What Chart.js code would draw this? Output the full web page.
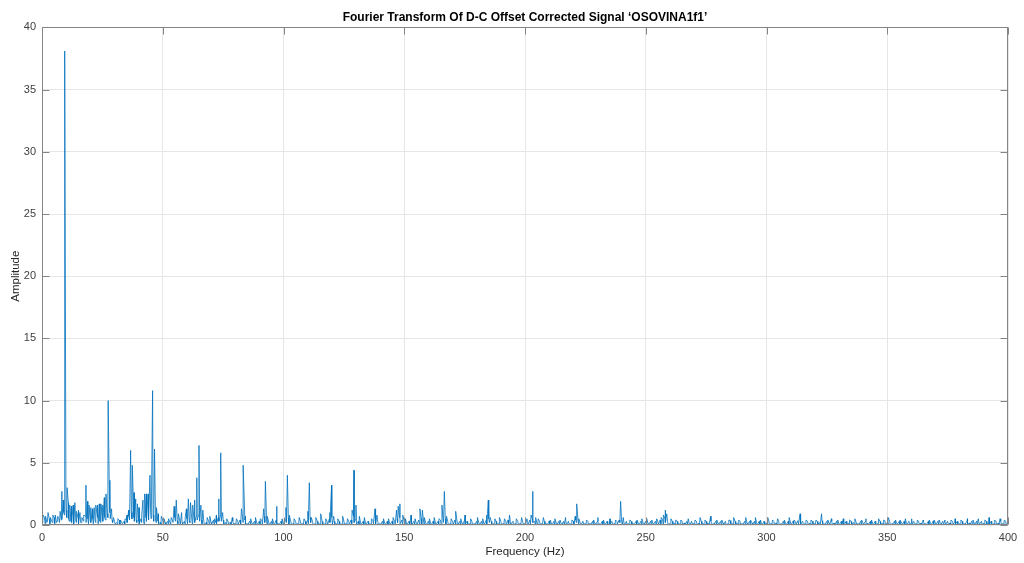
<!DOCTYPE html>
<html>
<head>
<meta charset="utf-8">
<script src="https://cdn.jsdelivr.net/npm/chart.js@4"></script>
<style>
  html, body { margin: 0; padding: 0; background: #fff; }
  canvas { display: block; }
</style>
</head>
<body>
<canvas id="fft" width="1024" height="563"></canvas>
<script>
// x axis / y axis ticks
var freqTicks = [0, 50, 100, 150, 200, 250, 300, 350, 400];
var ampTicks = [0, 5, 10, 15, 20, 25, 30, 35, 40];

// noise floor, one value per Hz (0..400)
var floorAmp = [
  0.3,0.6,0.2,0.5,0.3,0.6,0.2,0.5,0.4,1.0, 1.2,0.5,0.3,0.6,0.3,0.5,0.2,0.4,0.7,0.5,
  0.3,0.5,0.3,0.6,0.3,0.5,0.6,0.9,1.0,0.4, 0.3,0.2,0.4,0.2,0.3,0.4,0.7,1.0,0.6,0.4,
  0.3,0.5,0.4,0.6,0.7,1.0,0.8,0.4,0.3,0.2, 0.4,0.2,0.3,0.2,0.4,0.6,0.3,0.4,0.2,0.3,
  0.5,0.3,0.5,0.4,0.8,0.9,0.4,0.3,0.2,0.3, 0.2,0.4,0.2,0.6,0.8,0.4,0.2,0.3,0.2,0.3,
  0.1,0.3,0.4,0.7,0.4,0.1,0.3,0.1,0.3,0.1, 0.3,0.4,0.7,0.3,0.1,0.3,0.1,0.4,0.1,0.3,
  0.1,0.5,0.6,0.3,0.1,0.3,0.1,0.3,0.1,0.3, 0.4,0.6,0.3,0.1,0.3,0.1,0.3,0.1,0.3,0.5,
  0.6,0.3,0.1,0.3,0.1,0.3,0.1,0.3,0.4,0.7, 0.5,0.3,0.1,0.3,0.1,0.3,0.1,0.4,0.6,0.3,
  0.1,0.3,0.1,0.3,0.1,0.3,0.3,0.5,0.6,0.4, 0.3,0.1,0.3,0.1,0.3,0.1,0.4,0.5,0.3,0.1,
  0.3,0.1,0.3,0.1,0.3,0.4,0.6,0.5,0.3,0.1, 0.3,0.4,0.1,0.3,0.1,0.4,0.3,0.1,0.3,0.1,
  0.3,0.1,0.3,0.1,0.4,0.5,0.3,0.1,0.3,0.1, 0.3,0.1,0.3,0.4,0.1,0.3,0.1,0.3,0.1,0.3,
  0.1,0.3,0.4,0.5,0.3,0.1,0.3,0.1,0.3,0.1, 0.3,0.1,0.3,0.1,0.3,0.1,0.3,0.1,0.3,0.1,
  0.3,0.4,0.3,0.1,0.3,0.1,0.3,0.1,0.3,0.1, 0.3,0.1,0.3,0.1,0.3,0.1,0.3,0.1,0.3,0.4,
  0.3,0.1,0.3,0.1,0.3,0.1,0.3,0.1,0.3,0.1, 0.3,0.1,0.3,0.1,0.3,0.3,0.4,0.4,0.5,0.3,
  0.1,0.3,0.15,0.3,0.1,0.3,0.15,0.3,0.1,0.3, 0.1,0.3,0.15,0.3,0.1,0.3,0.15,0.3,0.1,0.3,
  0.1,0.3,0.15,0.3,0.1,0.35,0.1,0.3,0.15,0.3, 0.1,0.3,0.1,0.3,0.15,0.3,0.1,0.3,0.1,0.3,
  0.15,0.3,0.1,0.3,0.15,0.35,0.1,0.3,0.1,0.3, 0.15,0.3,0.25,0.35,0.1,0.3,0.1,0.3,0.15,0.3,
  0.1,0.3,0.2,0.35,0.1,0.3,0.1,0.3,0.15,0.3, 0.1,0.3,0.1,0.3,0.15,0.3,0.2,0.3,0.1,0.3,
  0.1,0.3,0.15,0.3,0.1,0.3,0.1,0.3,0.15,0.35, 0.2,0.3,0.1,0.3,0.1,0.3,0.15,0.3,0.1,0.3,
  0.15,0.3,0.1,0.3,0.15,0.3,0.1,0.3,0.1,0.3, 0.15,0.3,0.1,0.3,0.1,0.3,0.15,0.3,0.2,0.3,
  0.1,0.3,0.1,0.3,0.15,0.3,0.1,0.3,0.1,0.3, 0.15,0.3,0.1,0.3,0.1,0.3,0.15,0.3,0.1,0.3,
  0.1
];

// noise floor between the whole-Hz bins (0.25, 1.25, ... 399.25 Hz)
var floorMid = [
  0.2,0.1,0.3,0.1,0.2,0.1,0.3,0.2,0.5,0.8, 0.6,0.3,0.2,0.1,0.2,0.1,0.2,0.3,0.2,0.1,
  0.2,0.1,0.2,0.1,0.2,0.3,0.4,0.6,0.5,0.2, 0.1,0.1,0.05,0.1,0.05,0.2,0.4,0.5,0.3,0.2,
  0.1,0.2,0.1,0.3,0.4,0.5,0.3,0.2,0.1,0.05, 0.1,0.05,0.1,0.05,0.2,0.3,0.1,0.05,0.1,0.05,
  0.1,0.2,0.1,0.2,0.4,0.3,0.1,0.05,0.1,0.05, 0.1,0.05,0.1,0.3,0.3,0.1,0.05,0.1,0.05,0.1,
  0.05,0.08,0.03,0.2,0.06,0.04,0.1,0.05,0.03,0.07, 0.05,0.04,0.2,0.05,0.03,0.06,0.05,0.09,0.04,0.05,
  0.03,0.2,0.06,0.04,0.08,0.05,0.03,0.07,0.05,0.04, 0.1,0.2,0.03,0.06,0.05,0.08,0.04,0.05,0.03,0.2,
  0.06,0.04,0.08,0.05,0.03,0.07,0.05,0.04,0.1,0.2, 0.05,0.03,0.06,0.05,0.08,0.04,0.05,0.1,0.03,0.06,
  0.04,0.08,0.05,0.03,0.07,0.05,0.04,0.2,0.1,0.05, 0.03,0.06,0.05,0.08,0.04,0.05,0.1,0.03,0.06,0.04,
  0.08,0.05,0.03,0.07,0.05,0.04,0.2,0.05,0.03,0.06, 0.05,0.08,0.04,0.05,0.03,0.06,0.04,0.08,0.05,0.03,
  0.07,0.05,0.04,0.08,0.05,0.2,0.03,0.06,0.05,0.08, 0.04,0.05,0.03,0.1,0.06,0.04,0.08,0.05,0.03,0.07,
  0.05,0.04,0.08,0.2,0.05,0.03,0.06,0.05,0.08,0.04, 0.05,0.03,0.06,0.04,0.08,0.05,0.03,0.07,0.05,0.04,
  0.08,0.2,0.05,0.03,0.06,0.05,0.08,0.04,0.05,0.03, 0.06,0.04,0.08,0.05,0.03,0.07,0.05,0.04,0.08,0.2,
  0.05,0.03,0.06,0.05,0.08,0.04,0.05,0.03,0.06,0.04, 0.08,0.05,0.03,0.07,0.05,0.04,0.1,0.08,0.2,0.05,
  0.03,0.06,0.05,0.08,0.04,0.05,0.03,0.06,0.04,0.08, 0.05,0.03,0.07,0.05,0.04,0.08,0.05,0.03,0.06,0.05,
  0.08,0.04,0.05,0.03,0.06,0.04,0.08,0.05,0.03,0.07, 0.05,0.04,0.08,0.05,0.03,0.06,0.05,0.08,0.04,0.05,
  0.03,0.06,0.04,0.08,0.05,0.03,0.07,0.05,0.04,0.08, 0.05,0.03,0.06,0.05,0.08,0.04,0.05,0.03,0.06,0.04,
  0.08,0.05,0.03,0.07,0.05,0.04,0.08,0.05,0.03,0.06, 0.05,0.08,0.04,0.05,0.03,0.06,0.04,0.08,0.05,0.03,
  0.07,0.05,0.04,0.08,0.05,0.03,0.06,0.05,0.08,0.04, 0.05,0.03,0.06,0.04,0.08,0.05,0.03,0.07,0.05,0.04,
  0.08,0.05,0.03,0.06,0.05,0.08,0.04,0.05,0.03,0.06, 0.04,0.08,0.05,0.03,0.07,0.05,0.04,0.08,0.05,0.03,
  0.06,0.05,0.08,0.04,0.05,0.03,0.06,0.04,0.08,0.05, 0.03,0.07,0.05,0.04,0.08,0.05,0.03,0.06,0.05,0.08
];

// spectral lines (Hz) and their amplitudes
var peakFreq = [
  0.5,1.5,2.5,3.5,4.5,5.5,6.5,7.5,8.2,8.8,
  9.4,9.9,10.4,10.9,11.5,12.2,12.9,13.6,14.3,15.0,
  15.7,16.5,17.3,18.2,18.8,19.5,20.2,20.9,21.6,22.3,
  23.0,23.7,24.4,25.1,25.8,26.5,27.4,28.1,28.8,29.6,
  31.4,32.5,34.4,35.2,35.9,36.7,37.4,38.1,38.8,39.5,
  40.2,41.3,41.8,42.5,43.2,43.9,44.7,45.8,46.6,47.4,
  48.2,49.4,50.5,52.4,53.5,54.7,55.6,56.5,57.8,59.3,
  59.8,60.6,61.5,62.4,63.2,64.1,65.0,65.8,66.6,68.4,
  69.5,71.4,72.2,73.2,74.0,74.8,76.5,78.8,80.5,82.6,
  83.3,84.2,86.4,88.4,90.4,91.8,92.5,93.3,95.4,97.2,
  99.4,101.0,101.6,102.4,104.4,106.5,108.5,110.1,110.7,111.5,
  113.4,115.4,117.5,119.2,119.9,120.8,122.5,124.5,126.5,128.4,
  129.2,130.0,131.4,133.5,136.4,137.9,138.7,141.4,143.5,145.4,
  146.8,147.5,148.2,149.4,150.5,152.8,154.5,156.5,157.5,158.3,
  160.4,162.4,164.4,165.6,166.6,167.5,169.4,171.3,173.4,175.2,
  177.5,180.3,182.5,184.1,184.8,185.6,187.5,189.4,191.5,193.6,
  196.4,198.6,200.8,202.5,203.2,204.4,205.5,207.6,210.4,212.4,
  214.5,216.8,219.4,220.8,221.4,222.3,225.5,228.4,230.2,232.5,
  235.2,237.5,239.6,240.7,243.4,246.4,248.4,250.4,252.5,254.5,
  256.4,257.3,258.0,258.7,260.4,262.4,264.5,267.6,270.4,272.5,
  274.5,276.9,279.4,281.5,284.4,286.4,288.5,291.4,293.4,295.4,
  297.5,300.5,302.5,304.6,307.4,309.4,311.4,313.9,316.4,318.4,
  320.5,322.8,325.4,326.9,329.5,331.8,334.4,336.6,339.4,341.2,
  343.5,346.4,348.5,350.4,353.4,355.3,357.5,360.1,362.5,364.9,
  367.4,369.4,371.5,373.9,376.4,378.1,380.5,383.2,385.5,387.7,
  390.4,392.2,394.5,396.7,398.5
];
var peakAmp = [
  0.8,0.7,1.0,0.6,0.8,0.8,0.7,1.1,2.7,2.0,
  38.1,2.9,3.0,1.8,1.6,1.5,1.6,1.8,1.1,1.2,
  1.0,0.6,0.8,3.2,1.9,1.6,1.4,1.3,1.4,1.6,
  1.6,1.7,1.7,1.6,2.2,2.5,10.0,3.6,1.3,0.6,
  0.5,0.4,0.5,0.8,1.2,6.0,4.8,2.6,2.1,1.7,
  1.4,0.8,2.0,2.5,2.5,2.5,4.0,10.8,6.1,1.4,
  0.9,0.7,0.5,0.5,0.6,1.5,2.0,0.9,1.0,0.6,
  1.3,2.1,1.8,1.6,2.0,3.8,6.4,1.6,1.2,0.6,
  0.7,0.5,0.8,2.1,5.8,1.0,0.5,0.6,0.5,1.3,
  4.8,0.7,0.5,0.6,0.5,1.3,3.5,0.7,0.5,1.5,
  0.5,1.4,4.0,0.8,0.5,0.6,0.5,1.1,3.4,0.6,
  0.6,0.9,0.5,1.0,3.2,0.7,0.5,0.7,0.5,1.2,
  4.4,1.6,0.7,0.6,0.5,1.3,0.8,0.5,0.5,0.6,
  1.2,1.5,1.7,0.8,0.5,0.8,0.5,1.3,1.2,0.6,
  0.5,0.6,0.5,1.6,2.7,0.7,0.5,1.1,0.5,0.8,
  0.5,0.6,0.5,0.8,2.0,0.6,0.5,0.6,0.5,0.8,
  0.5,0.6,0.5,0.8,2.7,0.6,0.5,0.6,0.4,0.5,
  0.4,0.6,0.4,0.7,1.7,0.5,0.4,0.4,0.6,0.4,
  0.5,0.4,1.9,0.6,0.4,0.4,0.5,0.5,0.4,0.5,
  0.6,0.8,1.2,0.9,0.5,0.4,0.4,0.5,0.4,0.6,
  0.4,0.7,0.4,0.4,0.4,0.6,0.4,0.6,0.4,0.6,
  0.4,0.6,0.4,0.5,0.4,0.6,0.4,0.9,0.4,0.4,
  0.4,0.9,0.4,0.5,0.4,0.5,0.4,0.5,0.4,0.5,
  0.4,0.5,0.4,0.6,0.4,0.4,0.5,0.5,0.4,0.4,
  0.4,0.4,0.4,0.4,0.4,0.5,0.4,0.5,0.4,0.5,
  0.4,0.6,0.4,0.5,0.4
];

// merge floor and lines into one x-sorted trace
var spectrum = [];
floorAmp.forEach(function (v, i) { spectrum.push({ x: i, y: v }); });
floorMid.forEach(function (v, i) { spectrum.push({ x: i + 0.25, y: v }); });
peakFreq.forEach(function (f, i) { spectrum.push({ x: f, y: peakAmp[i] }); });
spectrum.sort(function (a, b) { return a.x - b.x; });

var FONT = '"Liberation Sans", Arial, Helvetica, sans-serif';

// matlab style box with inward ticks
var boxTicks = {
  id: 'boxTicks',
  afterDraw: function (chart) {
    var ctx = chart.ctx, a = chart.chartArea;
    var xs = chart.scales.x, ys = chart.scales.y;
    var L = Math.round(a.left) + 0.5, R = Math.round(a.right) - 0.5;
    var T = Math.round(a.top) + 0.5, B = Math.round(a.bottom) - 0.5;
    ctx.save();
    ctx.strokeStyle = '#858585';
    ctx.lineWidth = 1;
    ctx.beginPath();
    ctx.rect(L, T, R - L, B - T);
    freqTicks.forEach(function (v) {
      var px = Math.round(xs.getPixelForValue(v)) + 0.5;
      ctx.moveTo(px, B); ctx.lineTo(px, B - 7);
      ctx.moveTo(px, T); ctx.lineTo(px, T + 7);
    });
    ampTicks.forEach(function (v) {
      var py = Math.round(ys.getPixelForValue(v)) + 0.5;
      ctx.moveTo(L, py); ctx.lineTo(L + 7, py);
      ctx.moveTo(R, py); ctx.lineTo(R - 7, py);
    });
    ctx.stroke();
    ctx.restore();
  }
};

var ctx = document.getElementById('fft').getContext('2d');
var chart = new Chart(ctx, {
  type: 'line',
  data: {
    datasets: [{
      data: spectrum,
      borderColor: 'rgba(0,114,189,0.8)',
      borderWidth: 1,
      pointRadius: 0,
      tension: 0,
      fill: false
    }]
  },
  options: {
    responsive: false,
    animation: false,
    devicePixelRatio: 1,
    layout: { padding: { left: 0, right: 16, top: 0, bottom: 0 } },
    plugins: {
      legend: { display: false },
      tooltip: { enabled: false },
      title: {
        display: true,
        fullSize: false,
        text: 'Fourier Transform Of D-C Offset Corrected Signal \u2018OSOVINA1f1\u2019',
        color: '#000',
        font: { family: FONT, size: 12, weight: 'bold' },
        padding: { top: 10, bottom: 3 }
      }
    },
    scales: {
      x: {
        type: 'linear',
        min: 0, max: 400,
        afterBuildTicks: function (s) { s.ticks = freqTicks.map(function (v) { return { value: v }; }); },
        afterFit: function (s) { s.height = 38; },
        ticks: { color: '#404040', font: { family: FONT, size: 11 }, padding: 6, maxRotation: 0 },
        grid: { color: '#e6e6e6', drawTicks: false },
        border: { display: false },
        title: {
          display: true, text: 'Frequency (Hz)', color: '#262626',
          font: { family: FONT, size: 11.5 }, padding: { top: 0, bottom: 4 }
        }
      },
      y: {
        type: 'linear',
        min: 0, max: 40,
        afterBuildTicks: function (s) { s.ticks = ampTicks.map(function (v) { return { value: v }; }); },
        afterFit: function (s) { s.width = 42; },
        ticks: { color: '#404040', font: { family: FONT, size: 11 }, padding: 6 },
        grid: { color: '#e6e6e6', drawTicks: false },
        border: { display: false },
        title: {
          display: true, text: 'Amplitude', color: '#262626',
          font: { family: FONT, size: 11.5 }, padding: { top: 9, bottom: 0 }
        }
      }
    }
  },
  plugins: [boxTicks]
});
</script>
</body>
</html>
